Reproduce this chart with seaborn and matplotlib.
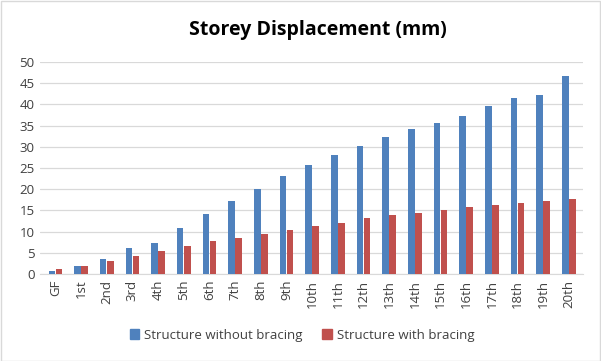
import pandas as pd
import numpy as np
import matplotlib
matplotlib.use("Agg")
import matplotlib.pyplot as plt
import seaborn as sns

storeys = ["GF", "1st", "2nd", "3rd", "4th", "5th", "6th", "7th", "8th", "9th", "10th",
           "11th", "12th", "13th", "14th", "15th", "16th", "17th", "18th", "19th", "20th"]
without_bracing = [0.8, 2.0, 3.6, 6.1, 7.4, 10.9, 14.2, 17.3, 20.1, 23.0, 25.6,
                   28.0, 30.1, 32.2, 34.1, 35.7, 37.3, 39.7, 41.6, 42.1, 46.6]
with_bracing = [1.2, 1.8, 3.1, 4.3, 5.5, 6.6, 7.9, 8.6, 9.5, 10.4, 11.4,
                12.1, 13.1, 13.8, 14.5, 15.2, 15.8, 16.3, 16.8, 17.2, 17.7]
series_names = ["Structure without bracing", "Structure with bracing"]

df = pd.DataFrame({
    "storey": storeys * 2,
    "disp": without_bracing + with_bracing,
    "series": [series_names[0]] * len(storeys) + [series_names[1]] * len(storeys),
})

sns.set_style("white")
plt.rcParams['font.family'] = ['Open Sans', 'DejaVu Sans']

fig = plt.figure(figsize=(6.01, 3.61), dpi=100)
ax = fig.add_axes([40 / 601, 1 - 274 / 361, 543 / 601, 212 / 361])

sns.barplot(data=df, x="storey", y="disp", hue="series", order=storeys,
            palette=["#4F81BD", "#C0504D"], width=0.56, gap=0.08,
            saturation=1, linewidth=0, ax=ax, zorder=3)

ax.set_ylim(0, 50)
ax.set_yticks(range(0, 51, 5))
ax.set_xlim(-0.6, len(storeys) - 0.45)
ax.grid(axis="y", color="#D9D9D9", linewidth=0.9, zorder=0)
for s in ["top", "right", "left"]:
    ax.spines[s].set_visible(False)
ax.spines["bottom"].set_color("#D9D9D9")
ax.tick_params(axis="both", length=0, labelsize=9.5, colors="#404040", pad=4)
ax.tick_params(axis="x", rotation=90)
ax.set_xlabel("")
ax.set_ylabel("")

fig.text(318 / 601, 1 - 30 / 361, "Storey Displacement (mm)", ha="center", va="center",
         fontsize=14, fontweight="bold", color="black")

ax.legend_.remove()
handles = [plt.Rectangle((0, 0), 1, 1, color=c) for c in ["#4F81BD", "#C0504D"]]
fig.legend(handles, series_names, loc="center", bbox_to_anchor=(302 / 601, 1 - 335 / 361),
           ncol=2, frameon=False, fontsize=9.5, handlelength=0.7, handleheight=0.8,
           handletextpad=0.4, columnspacing=1.5, labelcolor="#404040")

fig.patches.append(plt.Rectangle((0.5 / 601, 0.5 / 361), 1 - 1.5 / 601, 1 - 1.5 / 361,
                                 transform=fig.transFigure, fill=False,
                                 edgecolor="#D9D9D9", linewidth=1))

fig.savefig("out.png", dpi=100)
